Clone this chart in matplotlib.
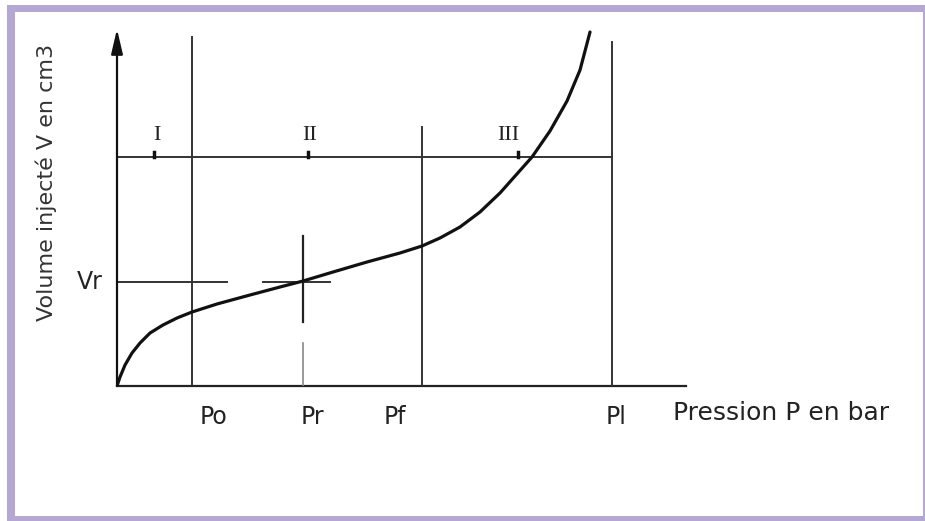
import matplotlib.pyplot as plt
from matplotlib.patches import Rectangle

# pressuremeter curve (arbitrary units)
pressure = [0, 0.061, 0.162, 0.303, 0.465, 0.667, 0.929, 1.212, 1.515, 2.020,
            2.687, 3.293, 3.758, 4.364, 5.051, 5.717, 6.162, 6.525, 6.929, 7.333,
            7.737, 8.061, 8.384, 8.747, 9.091, 9.354, 9.556]
volume = [0, 0.393, 0.917, 1.441, 1.878, 2.314, 2.664, 2.969, 3.231, 3.581,
          3.974, 4.323, 4.585, 4.978, 5.415, 5.808, 6.114, 6.463, 6.943, 7.598,
          8.428, 9.214, 10.0, 11.135, 12.445, 13.799, 15.459]

p_names = ['Po', 'Pr', 'Pf', 'Pl']
p_values = [1.52, 3.76, 6.16, 10.0]
p_tops = [15.24, 6.55, 11.31, 15.02]
p_label_shift = [0.42, 0.18, -0.54, 0.08]

phase_names = ['I', 'II', 'III']
phase_pos = [0.75, 3.85, 8.1]
phase_level = 10.0

vr = 4.55

fig = plt.figure(figsize=(9.25, 5.21), dpi=100)
W, H = 925, 521

# lavender frame
fig.patches.append(Rectangle((7 / W, 0), 1 - 7 / W, 1 - 5 / H, transform=fig.transFigure,
                             facecolor='#b4a7d3', edgecolor='none', zorder=-2))
fig.patches.append(Rectangle((15 / W, 5 / H), (923 - 15) / W, (516 - 12) / H,
                             transform=fig.transFigure, facecolor='white',
                             edgecolor='none', zorder=-1))

ax = fig.add_axes([117 / W, 1 - 386 / H, (686 - 117) / W, (386 - 29) / H])
ax.set_zorder(1)
ax.set_xlim(0, 11.495)
ax.set_ylim(0, 15.59)
ax.patch.set_alpha(0)
for s in ax.spines.values():
    s.set_visible(False)
ax.set_xticks([])
ax.set_yticks([])

# axes
ax.plot([0, 11.495], [0, 0], color='#222222', lw=1.6, clip_on=False)
ax.annotate('', xy=(0, 15.59), xytext=(0, 0),
            arrowprops=dict(arrowstyle='-|>,head_length=1.5,head_width=0.35',
                            color='#111111', lw=1.6, shrinkA=0, shrinkB=0))

# vertical pressure lines
for name, p, top, dx in zip(p_names, p_values, p_tops, p_label_shift):
    if name == 'Pr':
        ax.plot([p, p], [top, 2.79], color='#222222', lw=1.6)
        ax.plot([p, p], [1.88, 0], color='#888888', lw=1.2)
    else:
        ax.plot([p, p], [0, top], color='#333333', lw=1.4)
    ax.text(p + dx, -1.35, name, ha='center', va='center', fontsize=17, color='#222222')

# phase limit line with ticks
ax.plot([0, p_values[-1]], [phase_level, phase_level], color='#333333', lw=1.4)
for name, p in zip(phase_names, phase_pos):
    ax.plot([p, p], [phase_level, phase_level + 0.22], color='#111111', lw=2.5)
    ax.text(p + (0.05 if name != 'III' else -0.2), phase_level + 0.96, name, ha='center',
            va='center', fontsize=16, family='Liberation Serif', color='#222222')

# Vr marks
ax.plot([0, 2.22], [vr, vr], color='#333333', lw=1.4)
ax.plot([2.95, 4.30], [vr, vr], color='#333333', lw=1.4)
ax.text(-0.28, vr, 'Vr', ha='right', va='center', fontsize=17, color='#222222')

# curve
ax.plot(pressure, volume, color='#111111', lw=2.3, solid_capstyle='round',
        solid_joinstyle='round')

ax.text(11.23, -1.18, 'Pression P en bar', ha='left', va='center', fontsize=18,
        color='#222222', clip_on=False)
fig.text(46 / W, 1 - 182 / H, 'Volume injecté V en cm3', rotation=90, ha='center',
         va='center', fontsize=16, color='#333333')

plt.savefig('out.png', dpi=100)
